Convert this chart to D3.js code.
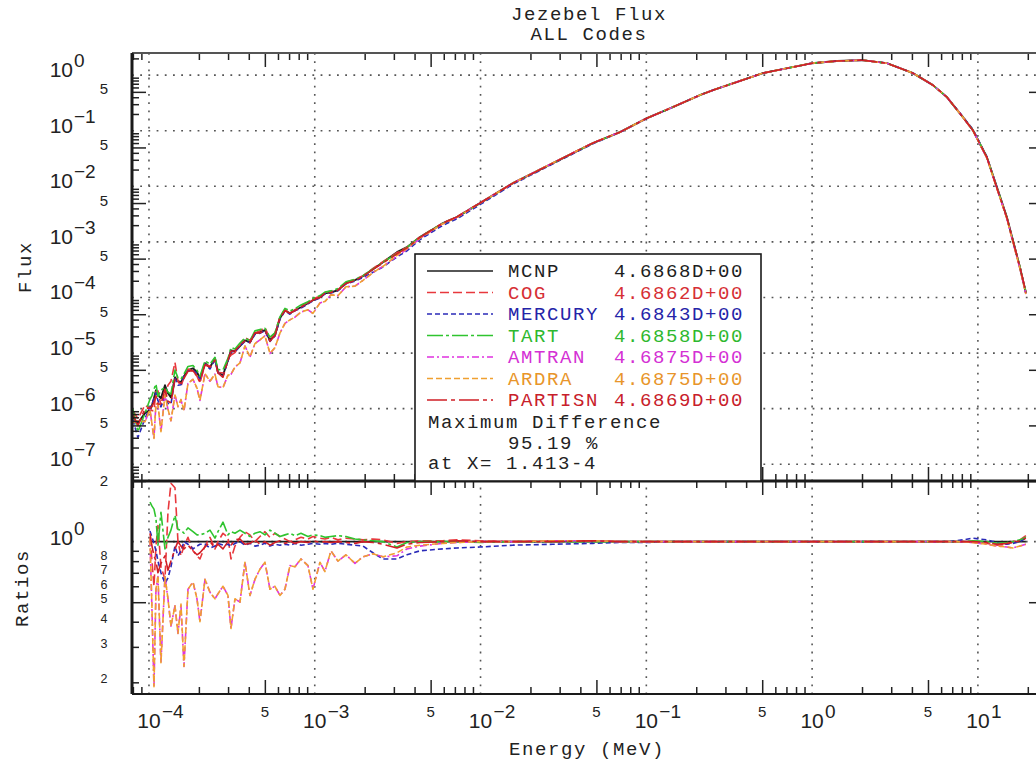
<!DOCTYPE html>
<html>
<head>
<meta charset="utf-8">
<script src="https://cdn.jsdelivr.net/npm/d3@7"></script>
<style>
  html, body { margin: 0; padding: 0; background: #fff; }
  svg { display: block; }
</style>
</head>
<body>
<svg id="chart" width="1036" height="767"></svg>
<script>
// ---------- data ----------
// Group energies (MeV)
const energy = [
  8.00e-5, 8.58e-5, 9.46e-5, 1.014e-4, 1.043e-4, 1.072e-4, 1.102e-4, 1.133e-4, 1.181e-4, 1.249e-4, 1.302e-4, 1.357e-4,
  1.435e-4, 1.496e-4, 1.560e-4, 1.626e-4, 1.719e-4, 1.843e-4, 1.948e-4, 2.030e-4,
  2.177e-4, 2.333e-4, 2.501e-4, 2.607e-4, 2.795e-4, 2.996e-4, 3.123e-4, 3.302e-4, 3.539e-4, 3.793e-4,
  4.066e-4, 4.358e-4, 4.672e-4, 5.008e-4, 5.368e-4, 5.754e-4, 6.167e-4, 6.611e-4, 7.086e-4, 7.596e-4,
  8.258e-4, 9.100e-4, 9.752e-4, 1.075e-3, 1.152e-3, 1.252e-3, 1.380e-3, 1.542e-3, 1.748e-3, 1.953e-3,
  2.244e-3, 2.578e-3, 3.132e-3, 3.598e-3, 4.311e-3, 5.933e-3, 7.205e-3, 9.92e-3, 1.568e-2, 2.734e-2,
  4.764e-2, 6.931e-2, 0.1008, 0.1447, 0.2105, 0.2522, 0.5051, 1.0, 1.411, 2.0,
  2.826, 4.055, 5.353, 6.502, 8.121, 9.33, 11.33, 13.02, 14.96, 16.26,
  17.92, 19.48
];

// MCNP reference flux
const fluxMCNP = [
  7.0e-7, 5.5e-7, 8.3e-7, 9.4e-7, 1.15e-6, 1.54e-6, 2.14e-6, 1.74e-6, 1.54e-6, 2.64e-6, 1.89e-6, 1.60e-6,
  3.67e-6, 3.11e-6, 2.99e-6, 3.83e-6, 4.91e-6, 5.33e-6, 4.52e-6, 3.52e-6,
  6.56e-6, 5.56e-6, 8.07e-6, 4.52e-6, 3.99e-6, 7.43e-6, 1.12e-5, 1.08e-5, 1.33e-5, 1.70e-5,
  1.57e-5, 2.28e-5, 2.37e-5, 2.58e-5, 1.70e-5, 2.09e-5, 4.24e-5, 5.90e-5, 5.21e-5, 5.90e-5,
  6.68e-5, 7.89e-5, 8.93e-5, 1.01e-4, 1.19e-4, 1.24e-4, 1.35e-4, 1.81e-4, 2.05e-4, 2.41e-4,
  3.23e-4, 4.31e-4, 6.53e-4, 8.03e-4, 1.22e-3, 2.17e-3, 2.79e-3, 4.97e-3, 1.14e-2, 2.61e-2,
  5.97e-2, 9.42e-2, 0.168, 0.266, 0.437, 0.537, 1.087, 1.64, 1.79, 1.86,
  1.64, 1.087, 0.661, 0.402, 0.175, 0.102, 0.0334, 9.65e-3, 2.78e-3, 1.07e-3,
  3.5e-4, 1.19e-4
];

// Code / MCNP flux ratios, same energy grid
const ratioCOG = [
  1.30, 1.20, 1.40, 1.05, 0.80, 0.60, 0.95, 1.20, 0.75, 0.65, 1.40, 1.95,
  1.85, 1.00, 0.85, 0.95, 1.05, 0.90, 0.85, 0.82,
  0.95, 1.05, 0.92, 1.00, 1.10, 1.05, 0.82, 0.95, 1.05, 1.12,
  1.08, 1.00, 1.06, 1.12, 1.05, 1.10, 1.06, 1.03, 1.00, 1.02,
  1.05, 1.03, 1.06, 1.04, 1.03, 1.05, 1.02, 1.04, 1.03, 1.02,
  1.03, 1.02, 0.98, 1.00, 1.01, 1.01, 1.02, 1.01, 1.00, 1.01,
  1.01, 1.00, 1.00, 1.00, 1.00, 1.00, 1.00, 1.00, 1.00, 1.00,
  1.00, 1.00, 1.00, 1.00, 1.00, 0.99, 0.98, 0.96, 0.97, 1.00,
  1.02, 1.07
];
const ratioMERCURY = [
  0.90, 0.55, 0.80, 1.13, 1.05, 0.98, 0.90, 0.80, 0.70, 0.62, 0.66, 0.75,
  0.95, 0.85, 0.90, 1.00, 0.97, 0.92, 0.95, 0.97,
  0.97, 0.93, 0.95, 0.98, 0.96, 0.97, 0.95, 0.98, 1.00, 0.96,
  0.98, 0.95, 0.96, 0.98, 0.95, 0.97, 0.96, 0.97, 0.96, 0.98,
  0.96, 0.97, 0.98, 0.97, 0.98, 0.97, 0.98, 0.97, 0.96, 0.95,
  0.88, 0.82, 0.82, 0.86, 0.90, 0.92, 0.93, 0.94, 0.96, 0.97,
  0.98, 0.99, 0.99, 1.00, 1.00, 1.00, 1.00, 1.00, 1.00, 1.00,
  1.00, 1.00, 1.00, 1.00, 1.02, 1.04, 1.02, 0.99, 0.97, 0.98,
  1.00, 1.04
];
const ratioTART = [
  1.40, 0.70, 1.00, 1.57, 1.50, 1.45, 1.30, 0.96, 1.40, 0.92, 1.05, 1.14,
  1.35, 1.15, 1.14, 1.10, 1.17, 1.12, 1.08, 1.08,
  1.10, 1.14, 1.04, 1.12, 1.25, 1.08, 1.12, 1.10, 1.14, 1.10,
  1.06, 1.10, 1.12, 1.08, 1.14, 1.10, 1.06, 1.08, 1.10, 1.07,
  1.10, 1.06, 1.08, 1.07, 1.05, 1.06, 1.07, 1.06, 1.03, 1.02,
  1.01, 1.00, 0.94, 0.99, 1.00, 1.00, 1.00, 0.99, 1.00, 1.00,
  1.00, 1.00, 1.00, 1.00, 1.00, 1.00, 1.00, 1.00, 1.00, 1.00,
  1.00, 1.00, 1.00, 1.00, 1.00, 1.01, 1.00, 0.98, 0.99, 1.00,
  1.02, 1.05
];
const ratioAMTRAN = [
  0.80, 1.10, 0.70, 1.03, 0.45, 0.19, 0.58, 0.67, 0.25, 0.67, 0.52, 0.38,
  0.48, 0.35, 0.48, 0.24, 0.58, 0.63, 0.52, 0.40,
  0.65, 0.56, 0.52, 0.55, 0.60, 0.54, 0.37, 0.52, 0.50, 0.79,
  0.54, 0.65, 0.73, 0.79, 0.58, 0.60, 0.54, 0.58, 0.76, 0.75,
  0.82, 0.76, 0.58, 0.79, 0.71, 0.90, 0.80, 0.86, 0.78, 0.84,
  0.87, 0.84, 0.85, 0.92, 0.95, 0.98, 0.99, 1.00, 1.00, 1.01,
  1.01, 1.00, 1.00, 1.00, 1.00, 1.00, 1.00, 1.00, 1.00, 1.00,
  1.00, 1.00, 1.00, 1.00, 1.00, 0.99, 0.97, 0.95, 0.94, 0.93,
  0.95, 0.97
];
const ratioARDRA = [
  0.80, 1.10, 0.70, 1.03, 0.46, 0.19, 0.58, 0.68, 0.25, 0.67, 0.52, 0.38,
  0.48, 0.35, 0.49, 0.24, 0.58, 0.63, 0.52, 0.40,
  0.65, 0.56, 0.52, 0.55, 0.60, 0.54, 0.37, 0.52, 0.50, 0.79,
  0.54, 0.65, 0.73, 0.79, 0.58, 0.60, 0.54, 0.58, 0.76, 0.75,
  0.82, 0.76, 0.58, 0.79, 0.71, 0.90, 0.80, 0.86, 0.78, 0.84,
  0.87, 0.84, 0.88, 0.94, 0.96, 0.98, 0.99, 1.00, 1.00, 1.01,
  1.01, 1.00, 1.00, 1.00, 1.00, 1.00, 1.00, 1.00, 1.00, 1.00,
  1.00, 1.00, 1.00, 1.00, 1.00, 0.99, 0.97, 0.95, 0.94, 0.93,
  0.95, 0.97
];
const ratioPARTISN = [
  1.10, 0.90, 1.20, 1.10, 0.95, 0.85, 0.80, 0.70, 0.78, 0.85, 0.72, 0.80,
  0.92, 1.00, 0.95, 0.92, 0.96, 0.90, 0.86, 0.88,
  0.94, 1.00, 0.93, 0.97, 0.92, 1.00, 0.96, 1.02, 1.03, 0.97,
  0.98, 1.02, 0.97, 1.00, 0.96, 0.99, 1.01, 0.98, 1.00, 0.98,
  1.00, 0.99, 1.01, 0.99, 1.00, 0.99, 1.00, 0.99, 0.98, 1.00,
  0.99, 0.97, 0.93, 0.97, 0.99, 1.00, 1.01, 1.00, 1.00, 1.00,
  1.01, 1.00, 1.00, 1.00, 1.00, 1.00, 1.00, 1.00, 1.00, 1.00,
  1.00, 1.00, 1.00, 1.00, 1.00, 1.00, 0.99, 0.97, 0.98, 0.99,
  1.01, 1.04
];

const codeNames = ["MCNP", "COG", "MERCURY", "TART", "AMTRAN", "ARDRA", "PARTISN"];
const codeIntegrals = ["4.6868D+00", "4.6862D+00", "4.6843D+00", "4.6858D+00", "4.6875D+00", "4.6875D+00", "4.6869D+00"];
const maxDiffText = ["Maximum Difference", "95.19 %", "at X= 1.413-4"];

const titleLines = ["Jezebel Flux", "ALL Codes"];
const xTitle = "Energy (MeV)";
const fluxTitle = "Flux";
const ratioTitle = "Ratios";

// Tick labels
const xDecadeTicks = [1e-4, 1e-3, 1e-2, 1e-1, 1, 10];
const xHalfTicks = [5e-4, 5e-3, 5e-2, 5e-1, 5];
const fluxDecadeTicks = [1, 1e-1, 1e-2, 1e-3, 1e-4, 1e-5, 1e-6, 1e-7];
const fluxHalfTicks = [5e-1, 5e-2, 5e-3, 5e-4, 5e-5, 5e-6, 5e-7];
const ratioDigitTicks = [0.8, 0.7, 0.6, 0.5, 0.4, 0.3, 0.2];
const ratioTopTick = 2;
const ratioUnitTick = 1;
const ratioStartEnergy = 1e-4;

// ---------- styling ----------
const styles = {
  MCNP:    { color: "#1e1e1e", dash: null,          text: "#1e1e1e", width: 1.9 },
  COG:     { color: "#e8383d", dash: "9,4",         text: "#d62f35", width: 1.6 },
  MERCURY: { color: "#2a2ab8", dash: "5,3",         text: "#2424a8", width: 1.6 },
  TART:    { color: "#2fc42f", dash: "16,3,3,3",    text: "#2eb82e", width: 1.6 },
  AMTRAN:  { color: "#e032e0", dash: "7,3,2,3",     text: "#d430d4", width: 1.6 },
  ARDRA:   { color: "#f0a030", dash: "6,3",         text: "#e8952a", width: 1.6 },
  PARTISN: { color: "#d01f26", dash: "20,4,4,4",    text: "#c8202a", width: 1.6 }
};

const ratiosByCode = {
  COG: ratioCOG, MERCURY: ratioMERCURY, TART: ratioTART,
  AMTRAN: ratioAMTRAN, ARDRA: ratioARDRA, PARTISN: ratioPARTISN
};

// ---------- layout ----------
const L = 132, R = 1043, T = 53, MID = 481, B = 694;

const x = d3.scaleLog().domain([7.9e-5, 24.7]).range([L, R]);
const yF = d3.scaleLog().domain([5e-8, 2.5]).range([MID, T]);
const yR = d3.scaleLog().domain([0.175, 2]).range([B, MID]);

const svg = d3.select("#chart");
const mono = "'Liberation Mono', 'DejaVu Sans Mono', monospace";
const sans = "'Liberation Sans', Arial, sans-serif";

const defs = svg.append("defs");
defs.append("clipPath").attr("id", "clipTop")
  .append("rect").attr("x", L).attr("y", T).attr("width", R - L).attr("height", MID - T);
defs.append("clipPath").attr("id", "clipRatio")
  .append("rect").attr("x", L).attr("y", MID).attr("width", R - L).attr("height", B - MID);

// series built from the arrays
const series = codeNames.map(name => {
  const pts = energy.map((e, i) => {
    const r = name === "MCNP" ? fluxMCNP[i] / fluxMCNP[i] : ratiosByCode[name][i];
    return { e, flux: fluxMCNP[i] * r, ratio: r };
  });
  return { name, pts, style: styles[name] };
});

// ---------- grid ----------
const gridColor = "#555";
const dotDash = "1.8,6.4";
const grid = svg.append("g");
xDecadeTicks.forEach(v => {
  grid.append("line")
    .attr("x1", x(v)).attr("x2", x(v)).attr("y1", T).attr("y2", B)
    .attr("stroke", gridColor).attr("stroke-width", 1.6).attr("stroke-dasharray", dotDash);
});
fluxDecadeTicks.forEach(v => {
  grid.append("line")
    .attr("x1", L).attr("x2", R).attr("y1", yF(v)).attr("y2", yF(v))
    .attr("stroke", gridColor).attr("stroke-width", 1.6).attr("stroke-dasharray", dotDash);
});
grid.append("line")
  .attr("x1", L).attr("x2", R).attr("y1", yR(ratioUnitTick)).attr("y2", yR(ratioUnitTick))
  .attr("stroke", gridColor).attr("stroke-width", 1.6).attr("stroke-dasharray", dotDash);

// ---------- curves ----------
const fluxLine = d3.line().x(d => x(d.e)).y(d => yF(d.flux));
const ratioLine = d3.line().defined(d => d.e >= ratioStartEnergy).x(d => x(d.e)).y(d => yR(d.ratio));

const gTop = svg.append("g").attr("clip-path", "url(#clipTop)");
const gRat = svg.append("g").attr("clip-path", "url(#clipRatio)");

series.forEach(s => {
  gTop.append("path")
    .attr("d", fluxLine(s.pts))
    .attr("fill", "none")
    .attr("stroke", s.style.color)
    .attr("stroke-width", s.style.width)
    .attr("stroke-dasharray", s.style.dash)
    .attr("stroke-linejoin", "round");
  gRat.append("path")
    .attr("d", ratioLine(s.pts))
    .attr("fill", "none")
    .attr("stroke", s.style.color)
    .attr("stroke-width", s.style.width)
    .attr("stroke-dasharray", s.style.dash)
    .attr("stroke-linejoin", "round");
});

// ---------- ticks ----------
const mant = d => Math.round(d / Math.pow(10, Math.floor(Math.log10(d) + 1e-9)));
const xMinor = x.ticks().filter(d => mant(d) !== 1);
const fMinor = yF.ticks().filter(d => mant(d) !== 1);
const rMinor = yR.ticks().filter(d => d < 1 && mant(d) !== 1);

const tickColor = "#222";
function styleAxis(g, longAttr, sign) {
  g.select(".domain").remove();
  g.selectAll(".tick line")
    .attr("stroke", tickColor).attr("stroke-width", 1.5)
    .attr(longAttr, d => sign * (mant(d) === 5 ? 14 : 7));
}

// x ticks: top of flux panel (down), bottom of flux panel (up), top of ratio panel (down), bottom of ratio panel (up)
[[T, false], [MID, true], [MID, false], [B, true]].forEach(([yy, up]) => {
  const ax = (up ? d3.axisBottom(x) : d3.axisTop(x))
    .tickValues(xMinor).tickFormat("").tickSizeOuter(0).tickSizeInner(-7);
  const g = svg.append("g").attr("transform", `translate(0,${yy})`).call(ax);
  styleAxis(g, "y2", up ? -1 : 1);
});

// y ticks on both sides, pointing inward
[[L, true], [R, false]].forEach(([xx, left]) => {
  const axF = (left ? d3.axisLeft(yF) : d3.axisRight(yF))
    .tickValues(fMinor).tickFormat("").tickSizeOuter(0).tickSizeInner(-7);
  const gF = svg.append("g").attr("transform", `translate(${xx},0)`).call(axF);
  styleAxis(gF, "x2", left ? 1 : -1);
  const axR = (left ? d3.axisLeft(yR) : d3.axisRight(yR))
    .tickValues(rMinor).tickFormat("").tickSizeOuter(0).tickSizeInner(-7);
  const gR = svg.append("g").attr("transform", `translate(${xx},0)`).call(axR);
  styleAxis(gR, "x2", left ? 1 : -1);
});

// ---------- frame ----------
const frame = svg.append("g").attr("stroke", "#1a1a1a").attr("fill", "none");
frame.append("line").attr("x1", L).attr("x2", R).attr("y1", T).attr("y2", T).attr("stroke", "#555").attr("stroke-width", 2);
frame.append("line").attr("x1", L).attr("x2", R).attr("y1", MID).attr("y2", MID).attr("stroke-width", 3);
frame.append("line").attr("x1", L).attr("x2", R).attr("y1", B).attr("y2", B).attr("stroke-width", 2);
frame.append("line").attr("x1", L).attr("x2", L).attr("y1", T).attr("y2", B).attr("stroke-width", 3);
frame.append("line").attr("x1", R).attr("x2", R).attr("y1", T).attr("y2", B).attr("stroke-width", 2);

// ---------- tick labels ----------
const lab = svg.append("g").attr("fill", "#222");
const expText = v => {
  const n = Math.round(Math.log10(v));
  return n < 0 ? "\u2212" + (-n) : String(n);
};

// x axis
xDecadeTicks.forEach(v => {
  const cx = x(v);
  lab.append("text").attr("x", cx).attr("y", 728).attr("text-anchor", "middle")
    .attr("font-family", sans).attr("font-size", 21).text("10");
  lab.append("text").attr("x", cx + 13).attr("y", 718)
    .attr("font-family", sans).attr("font-size", 19).text(expText(v));
});
xHalfTicks.forEach(v => {
  lab.append("text").attr("x", x(v)).attr("y", 717).attr("text-anchor", "middle")
    .attr("font-family", sans).attr("font-size", 15).text("5");
});

// flux axis
fluxDecadeTicks.forEach(v => {
  const yy = yF(v);
  lab.append("text").attr("x", 73).attr("y", yy + 2).attr("text-anchor", "end")
    .attr("font-family", sans).attr("font-size", 21).text("10");
  lab.append("text").attr("x", 74).attr("y", yy - 8)
    .attr("font-family", sans).attr("font-size", 19).text(expText(v));
});
fluxHalfTicks.forEach(v => {
  lab.append("text").attr("x", 104).attr("y", yF(v) + 2.5).attr("text-anchor", "middle")
    .attr("font-family", sans).attr("font-size", 15).text("5");
});

// ratio axis
lab.append("text").attr("x", 73).attr("y", yR(ratioUnitTick) + 3).attr("text-anchor", "end")
  .attr("font-family", sans).attr("font-size", 21).text("10");
lab.append("text").attr("x", 74).attr("y", yR(ratioUnitTick) - 7)
  .attr("font-family", sans).attr("font-size", 19).text(expText(ratioUnitTick));
lab.append("text").attr("x", 104).attr("y", yR(ratioTopTick) + 5).attr("text-anchor", "middle")
  .attr("font-family", sans).attr("font-size", 15).text(String(ratioTopTick));
// digits for 0.8 ... 0.2 sit tightly stacked; small nudges keep neighbours apart
const digitNudge = { 8: -2.5, 7: 0.5, 6: 1.5 };
ratioDigitTicks.forEach(v => {
  const m = mant(v);
  lab.append("text").attr("x", 104).attr("y", yR(v) - 3 + (digitNudge[m] || 0))
    .attr("dominant-baseline", "central").attr("text-anchor", "middle")
    .attr("font-family", sans).attr("font-size", 12.5).text(String(m));
});

// ---------- titles ----------
const ttl = svg.append("g").attr("fill", "#222").attr("font-family", mono)
  .attr("font-size", 19).attr("letter-spacing", 1.6);
ttl.append("text").attr("x", 589).attr("y", 20).attr("text-anchor", "middle").text(titleLines[0]);
ttl.append("text").attr("x", 589).attr("y", 40).attr("text-anchor", "middle").text(titleLines[1]);
ttl.append("text").attr("x", 587).attr("y", 755).attr("text-anchor", "middle").text(xTitle);
ttl.append("text").attr("transform", "translate(31,267) rotate(-90)").attr("text-anchor", "middle").text(fluxTitle);
ttl.append("text").attr("transform", "translate(28,588) rotate(-90)").attr("text-anchor", "middle").text(ratioTitle);

// ---------- legend ----------
const leg = svg.append("g");
leg.append("rect").attr("x", 415).attr("y", 254).attr("width", 346).attr("height", MID - 254)
  .attr("fill", "#fff").attr("stroke", "#1a1a1a").attr("stroke-width", 1.6);
const legText = leg.append("g").attr("font-family", mono).attr("font-size", 19).attr("letter-spacing", 1.6);
series.forEach((s, i) => {
  const base = 277 + i * 21.5;
  leg.append("line").attr("x1", 427).attr("x2", 493).attr("y1", base - 6).attr("y2", base - 6)
    .attr("stroke", s.style.color).attr("stroke-width", 1.5)
    .attr("stroke-dasharray", s.style.dash);
  legText.append("text").attr("x", 508).attr("y", base).attr("fill", s.style.text).text(s.name);
  legText.append("text").attr("x", 614).attr("y", base).attr("fill", s.style.text).text(codeIntegrals[i]);
});
legText.append("text").attr("x", 428).attr("y", 428).attr("fill", "#222").text(maxDiffText[0]);
legText.append("text").attr("x", 508).attr("y", 448.5).attr("fill", "#222").text(maxDiffText[1]);
legText.append("text").attr("x", 428).attr("y", 469).attr("fill", "#222").text(maxDiffText[2]);
</script>
</body>
</html>
